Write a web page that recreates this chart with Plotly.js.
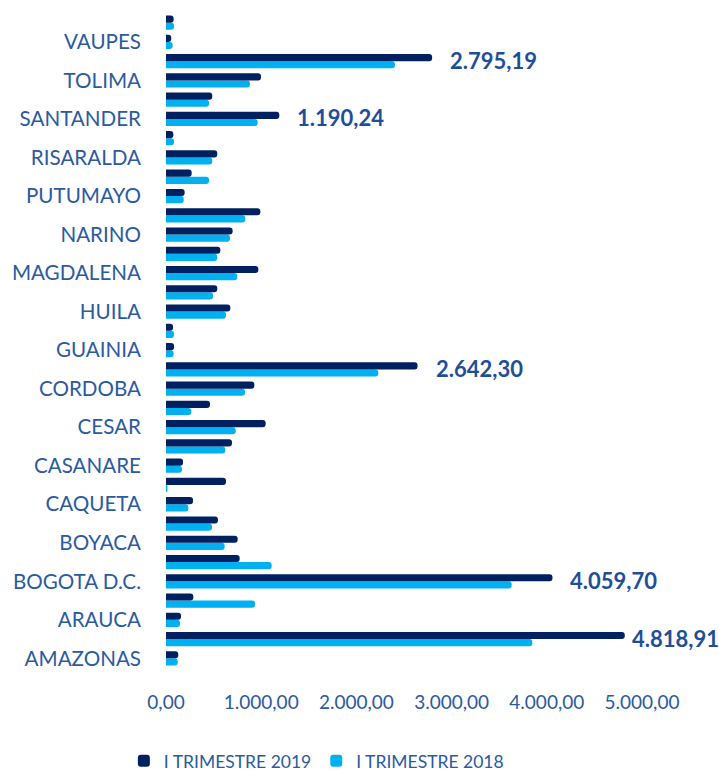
<!DOCTYPE html>
<html>
<head>
<meta charset="utf-8">
<script src="https://cdn.plot.ly/plotly-3.0.1.min.js"></script>
<style>html,body{margin:0;padding:0;background:#fff;}</style>
</head>
<body>
<div id="chart" style="width:719px;height:771px;"></div>
<script>
// Categories, bottom to top
const departments = ["AMAZONAS","ANTIOQUIA","ARAUCA","ATLANTICO","BOGOTA D.C.","BOLIVAR","BOYACA","CALDAS","CAQUETA","CARTAGENA","CASANARE","CAUCA","CESAR","CHOCO","CORDOBA","CUNDINAMARCA","GUAINIA","GUAVIARE","HUILA","LA GUAJIRA","MAGDALENA","META","NARINO","NORTE DE SANTANDER","PUTUMAYO","QUINDIO","RISARALDA","SAN ANDRES","SANTANDER","SUCRE","TOLIMA","VALLE DEL CAUCA","VAUPES","VICHADA"];
const shownLabels = ["AMAZONAS","ARAUCA","BOGOTA D.C.","BOYACA","CAQUETA","CASANARE","CESAR","CORDOBA","GUAINIA","HUILA","MAGDALENA","NARINO","PUTUMAYO","RISARALDA","SANTANDER","TOLIMA","VAUPES"];
const trim2019 = [129,4818.91,158,287,4059.70,774,753,546,284,630,179,693,1047,462,928,2642.30,85,74,676,539,970,571,700,991,196,270,539,77,1190.24,486,998,2795.19,55,80];
const trim2018 = [123,3848,147,935,3631,1110,616,483,235,15,168,623,732,266,830,2230,80,84,630,494,749,539,672,833,186,452,486,84,963,452,882,2405,70,85];
const labelled = ["ANTIOQUIA","BOGOTA D.C.","CUNDINAMARCA","SANTANDER","VALLE DEL CAUCA"];
const seriesNames = ["I TRIMESTRE 2019","I TRIMESTRE 2018"];
const xTicks = [0,1000,2000,3000,4000,5000];

function fmt(v){
  const parts = v.toFixed(2).split(".");
  parts[0] = parts[0].replace(/\B(?=(\d{3})+(?!\d))/g, ".");
  return parts[0] + "," + parts[1];
}

const textColor = "#2B5A9F";
const fontFam = "Lato, 'Open Sans', sans-serif";

const traces = [
  {type:"bar", orientation:"h", name:seriesNames[1], y:departments, x:trim2018,
   marker:{color:"#00B0F0", cornerradius:3}, hoverinfo:"x+y"},
  {type:"bar", orientation:"h", name:seriesNames[0], y:departments, x:trim2019,
   marker:{color:"#002060", cornerradius:3}, hoverinfo:"x+y"}
];

const annotations = labelled.map(function(name){
  const v = trim2019[departments.indexOf(name)];
  return {x:v, y:name, xref:"x", yref:"y", text:"<b>"+fmt(v)+"</b>", showarrow:false,
    xanchor:"left", yanchor:"middle", xshift:(v > 4500 ? 5 : 16), yshift:1,
    font:{family:fontFam, size:22, color:"#1F4E99"}};
});

const layout = {
  width:719, height:771,
  margin:{l:166, r:77, t:13, b:103},
  paper_bgcolor:"#fff", plot_bgcolor:"#fff",
  barmode:"group", bargap:0.26, bargroupgap:0,
  separators:",.",
  font:{family:fontFam, color:textColor},
  xaxis:{range:[0,5000], tickvals:xTicks, tickformat:",.2f", showgrid:false, zeroline:false,
    showline:false, ticks:"", ticklabelstandoff:21, tickfont:{size:19, color:textColor}, fixedrange:true},
  yaxis:{type:"category", categoryorder:"array", categoryarray:departments, tickvals:shownLabels,
    range:[-0.5, departments.length-0.5],
    showgrid:false, zeroline:false, showline:false, ticks:"", ticklabelstandoff:24,
    tickfont:{size:20.6, color:textColor}, fixedrange:true},
  legend:{orientation:"h", traceorder:"reversed", xref:"container", yref:"container",
    x:0.44, xanchor:"center", y:0.013, yanchor:"middle",
    font:{size:17.5, color:textColor, family:fontFam}, itemwidth:30},
  annotations:annotations,
  showlegend:true
};

Plotly.newPlot("chart", traces, layout, {displayModeBar:false, staticPlot:true});
</script>
</body>
</html>
